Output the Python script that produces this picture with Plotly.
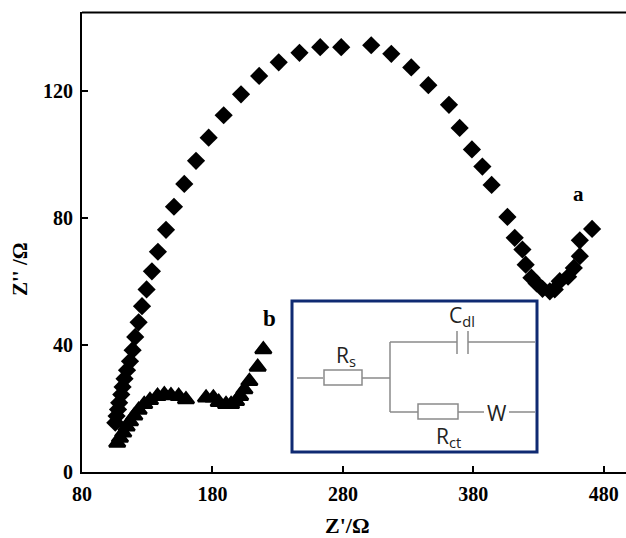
import plotly.graph_objects as go

# Series a (diamonds)
a_x = [105.5,106.5,107.6,108.5,110.1,111.1,112.6,114.5,116.8,118.8,120.8,123.4,126,129.5,133.6,138.2,144.4,150.5,158.4,167.4,177.1,188.6,201.9,215.8,230.8,246.7,262.6,278.7,301.7,317.1,332.4,345.5,361.3,369.5,378.9,386.9,394,406.1,411.7,417.6,420.1,424.5,428.5,433,438.6,442.4,446.2,452.6,457,461.6,461.6,471]
a_y = [15.4,17.5,19.6,21.7,24.3,26.7,29.3,32,34.8,38.3,42.5,47.1,52.2,57.5,63.2,69.4,76.3,83.6,90.8,98.1,105.4,112.5,119.1,124.9,129.2,132.2,134,134,134.6,131.9,127.6,122,115.8,108.5,101.7,96.3,90.5,80.4,73.8,70.1,65.3,61.2,59.4,57.7,56.9,57.5,60.1,61.5,64.3,68,73,76.6]
# Series b (triangles)
b_x = [107,109.1,111.6,114.2,116.8,120.1,123.4,127.7,132.1,137.9,143.1,148.2,154.1,159.7,175.1,180.7,184.8,190.4,194.3,198.1,201.2,204.5,208.3,214.7,219]
b_y = [9.0,10.6,12.2,14.1,15.8,17.6,19.4,21.2,22.5,23.8,24.3,24,23.8,22.7,23.3,23.3,21.9,21.2,21.2,22.2,23.8,25.9,28.5,33,38.5]
x_ticks = [80,180,280,380,480]
y_ticks = [0,40,80,120]

W, H = 626, 538
SERIF = "Liberation Serif"
NAVY = "#0f2a72"
GREY = "#8a8a8a"

fig = go.Figure()
fig.add_trace(go.Scatter(x=a_x, y=a_y, mode="markers", showlegend=False,
    marker=dict(symbol="diamond", size=14, color="black")))
fig.add_trace(go.Scatter(x=b_x, y=b_y, mode="markers", showlegend=False,
    marker=dict(symbol="triangle-up", size=14, color="black", line=dict(color="black", width=2.5))))

def px(x):
    return x / W

def py(y):
    return 1 - y / H

def line(x0, y0, x1, y1, color=GREY, w=1.5):
    return dict(type="line", xref="paper", yref="paper", x0=px(x0), y0=py(y0), x1=px(x1), y1=py(y1),
                line=dict(color=color, width=w), layer="above")

def box(x0, y0, x1, y1, color=GREY, w=1.5, fill="white"):
    return dict(type="rect", xref="paper", yref="paper", x0=px(x0), y0=py(y0), x1=px(x1), y1=py(y1),
                line=dict(color=color, width=w), fillcolor=fill, layer="above")

shapes = [
    line(82, 12.5, 626, 12.5, "black", 2),
    box(292, 301, 537, 452, NAVY, 3),
    line(297, 378, 323, 378),
    box(324, 370, 362, 385),
    line(362, 378, 390, 378),
    line(390, 342, 390, 412),
    line(390, 342, 457, 342),
    line(457, 331, 457, 354),
    line(468, 331, 468, 354),
    line(468, 342, 535, 342),
    line(390, 412, 418, 412),
    box(418, 404, 458, 419),
    line(458, 412, 484, 412),
    line(509, 412, 535, 412),
]

def txt(x, y, s, size, font="Open Sans", color="#222222", bold=False, angle=0):
    return dict(xref="paper", yref="paper", x=px(x), y=py(y), text=f"<b>{s}</b>" if bold else s,
                showarrow=False, textangle=angle, xanchor="center", yanchor="middle",
                font=dict(family=font, size=size, color=color))

annotations = [
    txt(578, 194, "a", 21, SERIF, "black", True),
    txt(269, 318, "b", 23, SERIF, "black", True),
    txt(346, 356, "R<sub>s</sub>", 21),
    txt(462, 316, "C<sub>dl</sub>", 21),
    txt(448, 437, "R<sub>ct</sub>", 21),
    txt(497, 413, "W", 21),
    txt(347, 525, "Z'/Ω", 22, SERIF, "black", True),
    txt(20, 269, "Z'' /Ω", 21, SERIF, "black", True, -90),
]

fig.update_layout(
    width=W, height=H, margin=dict(l=0, r=0, t=0, b=0),
    plot_bgcolor="white", paper_bgcolor="white",
    shapes=shapes, annotations=annotations,
    font=dict(family=SERIF, color="black"),
    xaxis=dict(domain=[82/W, 1], range=[80, 497], tickvals=x_ticks, ticktext=[f"<b>{v}</b>" for v in x_ticks],
               ticks="inside", ticklen=6, automargin=False,
               tickwidth=1.5, tickcolor="black", showline=True, linecolor="black", linewidth=2,
               showgrid=False, zeroline=False, anchor="y",
               tickfont=dict(size=20, family=SERIF, color="black"), ticklabelstandoff=3),
    yaxis=dict(domain=[(H-471.5)/H, (H-12)/H], range=[0, 145.1], tickvals=y_ticks, ticktext=[f"<b>{v}</b>" for v in y_ticks],
               ticks="inside", ticklen=6, automargin=False,
               tickwidth=1.5, tickcolor="black", showline=True, linecolor="black", linewidth=2,
               showgrid=False, zeroline=False, anchor="x",
               tickfont=dict(size=20, family=SERIF, color="black"), ticklabelstandoff=3),
)
fig.write_html("out.html", config={"displayModeBar": False}, post_script="document.body.style.margin='0';")
